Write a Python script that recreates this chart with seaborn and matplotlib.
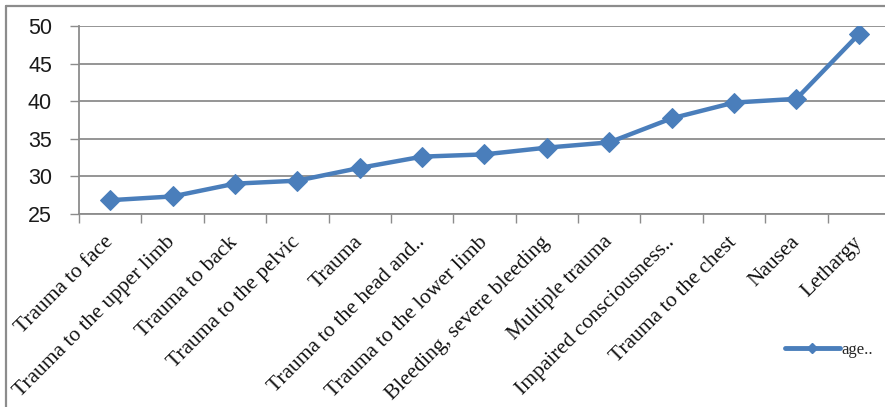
import matplotlib
matplotlib.use("Agg")
import matplotlib.pyplot as plt
from matplotlib.lines import Line2D
import numpy as np
import pandas as pd
import seaborn as sns

complaints = [
    "Trauma to face",
    "Trauma to the upper limb",
    "Trauma to back",
    "Trauma to the pelvic",
    "Trauma",
    "Trauma to the head and..",
    "Trauma to the lower limb",
    "Bleeding, severe bleeding",
    "Multiple trauma",
    "Impaired consciousness..",
    "Trauma to the chest",
    "Nausea",
    "Lethargy",
]
mean_age = [26.8, 27.3, 29.0, 29.4, 31.1, 32.6, 32.9, 33.8, 34.5, 37.7, 39.8, 40.3, 48.9]
y_ticks = [25, 30, 35, 40, 45, 50]
series_name = "age.."

BLUE = "#4A7EBB"
GREY = "#8C8C8C"
W, H = 885, 407

df = pd.DataFrame({"complaint": complaints, "age": mean_age})

sns.set_theme(style="white")
plt.rcParams["font.family"] = ["Liberation Sans", "DejaVu Sans"]

fig = plt.figure(figsize=(W / 100, H / 100), dpi=100)
fig.patch.set_facecolor("white")

# plot area in pixel units
left, right, top, bottom = 79, 890, 26, 213.7
ax = fig.add_axes([left / W, 1 - bottom / H, (right - left) / W, (bottom - top) / H])

sns.lineplot(data=df, x="complaint", y="age", sort=False, ax=ax,
             color=BLUE, linewidth=3.2, marker="D", markersize=10.5,
             markeredgecolor=BLUE, markerfacecolor=BLUE, legend=False)

n = len(complaints)
ax.set_xlim(-0.5, n - 0.5)
ax.set_ylim(25, 50)
ax.set_xlabel("")
ax.set_ylabel("")

# y axis with grid
ax.set_yticks(y_ticks)
ax.set_yticklabels([str(v) for v in y_ticks], fontsize=15.5, color="#1a1a1a")
ax.yaxis.grid(True, color=GREY, linewidth=1.3)
ax.set_axisbelow(True)
ax.tick_params(axis="y", which="major", direction="out", length=6.5, width=1,
               color=GREY, pad=13, left=True)

# x axis: labels at category centres, tick marks at boundaries
ax.set_xticks(np.arange(n))
ax.set_xticklabels(complaints, rotation=45, ha="right", va="center",
                   rotation_mode="anchor", fontsize=15.5,
                   family=["Liberation Serif", "DejaVu Serif"], color="#111111")
ax.tick_params(axis="x", which="major", length=0, pad=18.5)
ax.set_xticks(np.arange(-0.5, n), minor=True)
ax.tick_params(axis="x", which="minor", direction="out", length=6.5, width=1,
               color=GREY, bottom=True)

for side in ("top", "right"):
    ax.spines[side].set_visible(False)
for side in ("left", "bottom"):
    ax.spines[side].set_color(GREY)
    ax.spines[side].set_linewidth(1.3)

# legend at lower right
handle = Line2D([], [], color=BLUE, linewidth=3.5, marker="D", markersize=5,
                markerfacecolor=BLUE, markeredgecolor=BLUE)
fig.legend([handle], [series_name], loc="center left",
           bbox_to_anchor=(778 / W, 1 - 350 / H), frameon=False,
           handlelength=3.3, handletextpad=0.1, borderaxespad=0,
           prop={"family": ["Liberation Serif", "DejaVu Serif"], "size": 12})

# chart frame
fig.add_artist(Line2D([5.5 / W, 5.5 / W], [0, 1 - 5.5 / H], transform=fig.transFigure,
                      color=GREY, linewidth=1.6))
fig.add_artist(Line2D([5.5 / W, 1], [1 - 5.5 / H, 1 - 5.5 / H], transform=fig.transFigure,
                      color=GREY, linewidth=1.6))

fig.savefig("out.png", dpi=100, facecolor="white")
